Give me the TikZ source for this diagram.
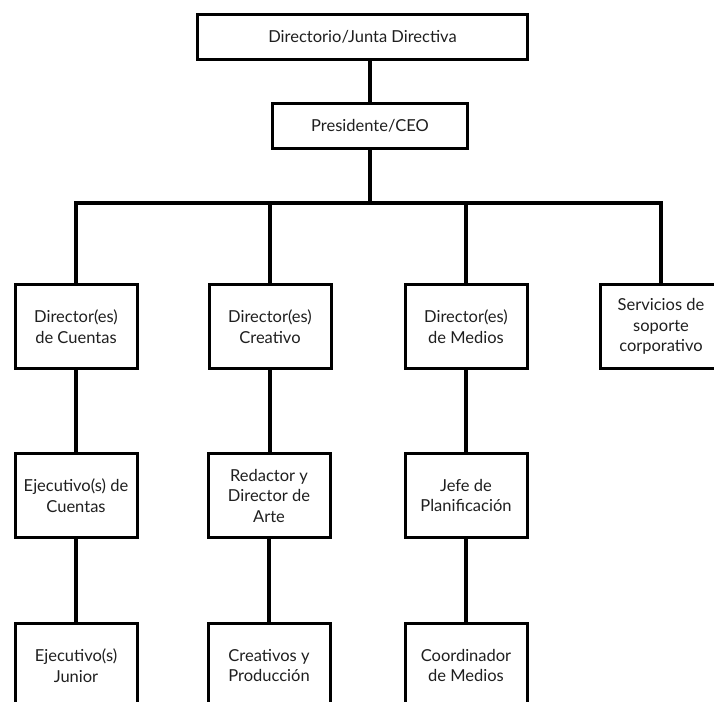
\documentclass[tikz,border=0pt]{standalone}
\usepackage{fontspec}
\setmainfont{Lato}
\begin{document}
\begin{tikzpicture}[x=1pt,y=-1pt,
  box/.style={draw=black, line width=3pt, fill=white, align=center, inner sep=0pt,
    minimum width=122pt, minimum height=84pt,
    font=\fontsize{16.5}{20.5}\selectfont, text=black!88},
  conn/.style={line width=4pt, line join=miter, draw=black}]
\useasboundingbox (0,0) rectangle (714,701);
% top levels
\node[box, minimum width=330pt, minimum height=45pt] (top) at (362.5,37) {Directorio/Junta Directiva};
\node[box, minimum width=195pt, minimum height=45pt] (pres) at (370,126) {Presidente/CEO};
% level 2
\node[box] (d1) at (76,326.5) {Director(es)\\de Cuentas};
\node[box] (d2) at (270,326.5) {Director(es)\\Creativo};
\node[box] (d3) at (466,326.5) {Director(es)\\de Medios};
\node[box] (d4) at (661,326.5) {Servicios de\\soporte\\corporativo};
% level 3
\node[box] (e1) at (76,495.5) {Ejecutivo(s) de\\Cuentas};
\node[box] (e2) at (269,495.5) {Redactor y\\Director de\\Arte};
\node[box] (e3) at (466,495.5) {Jefe de\\Planificación};
% level 4
\node[box] (f1) at (76,665.5) {Ejecutivo(s)\\Junior};
\node[box] (f2) at (269,665.5) {Creativos y\\Producción};
\node[box] (f3) at (466,665.5) {Coordinador\\de Medios};
% connectors
\coordinate (bar) at (370,203);
\draw[conn] (pres.north) -- (pres.north |- top.south);
\draw[conn] (pres.south) -- (bar);
\draw[conn] (d1.north) -- (d1.north |- bar) -- (d4.north |- bar) -- (d4.north);
\draw[conn] (d2.north) -- (d2.north |- bar);
\draw[conn] (d3.north) -- (d3.north |- bar);
\draw[conn] (d1.south) -- (e1.north);
\draw[conn] (e1.south) -- (f1.north);
\draw[conn] (d2.south) -- (d2.south |- e2.north);
\draw[conn] (e2.south) -- (f2.north);
\draw[conn] (d3.south) -- (e3.north);
\draw[conn] (e3.south) -- (f3.north);
\end{tikzpicture}
\end{document}
